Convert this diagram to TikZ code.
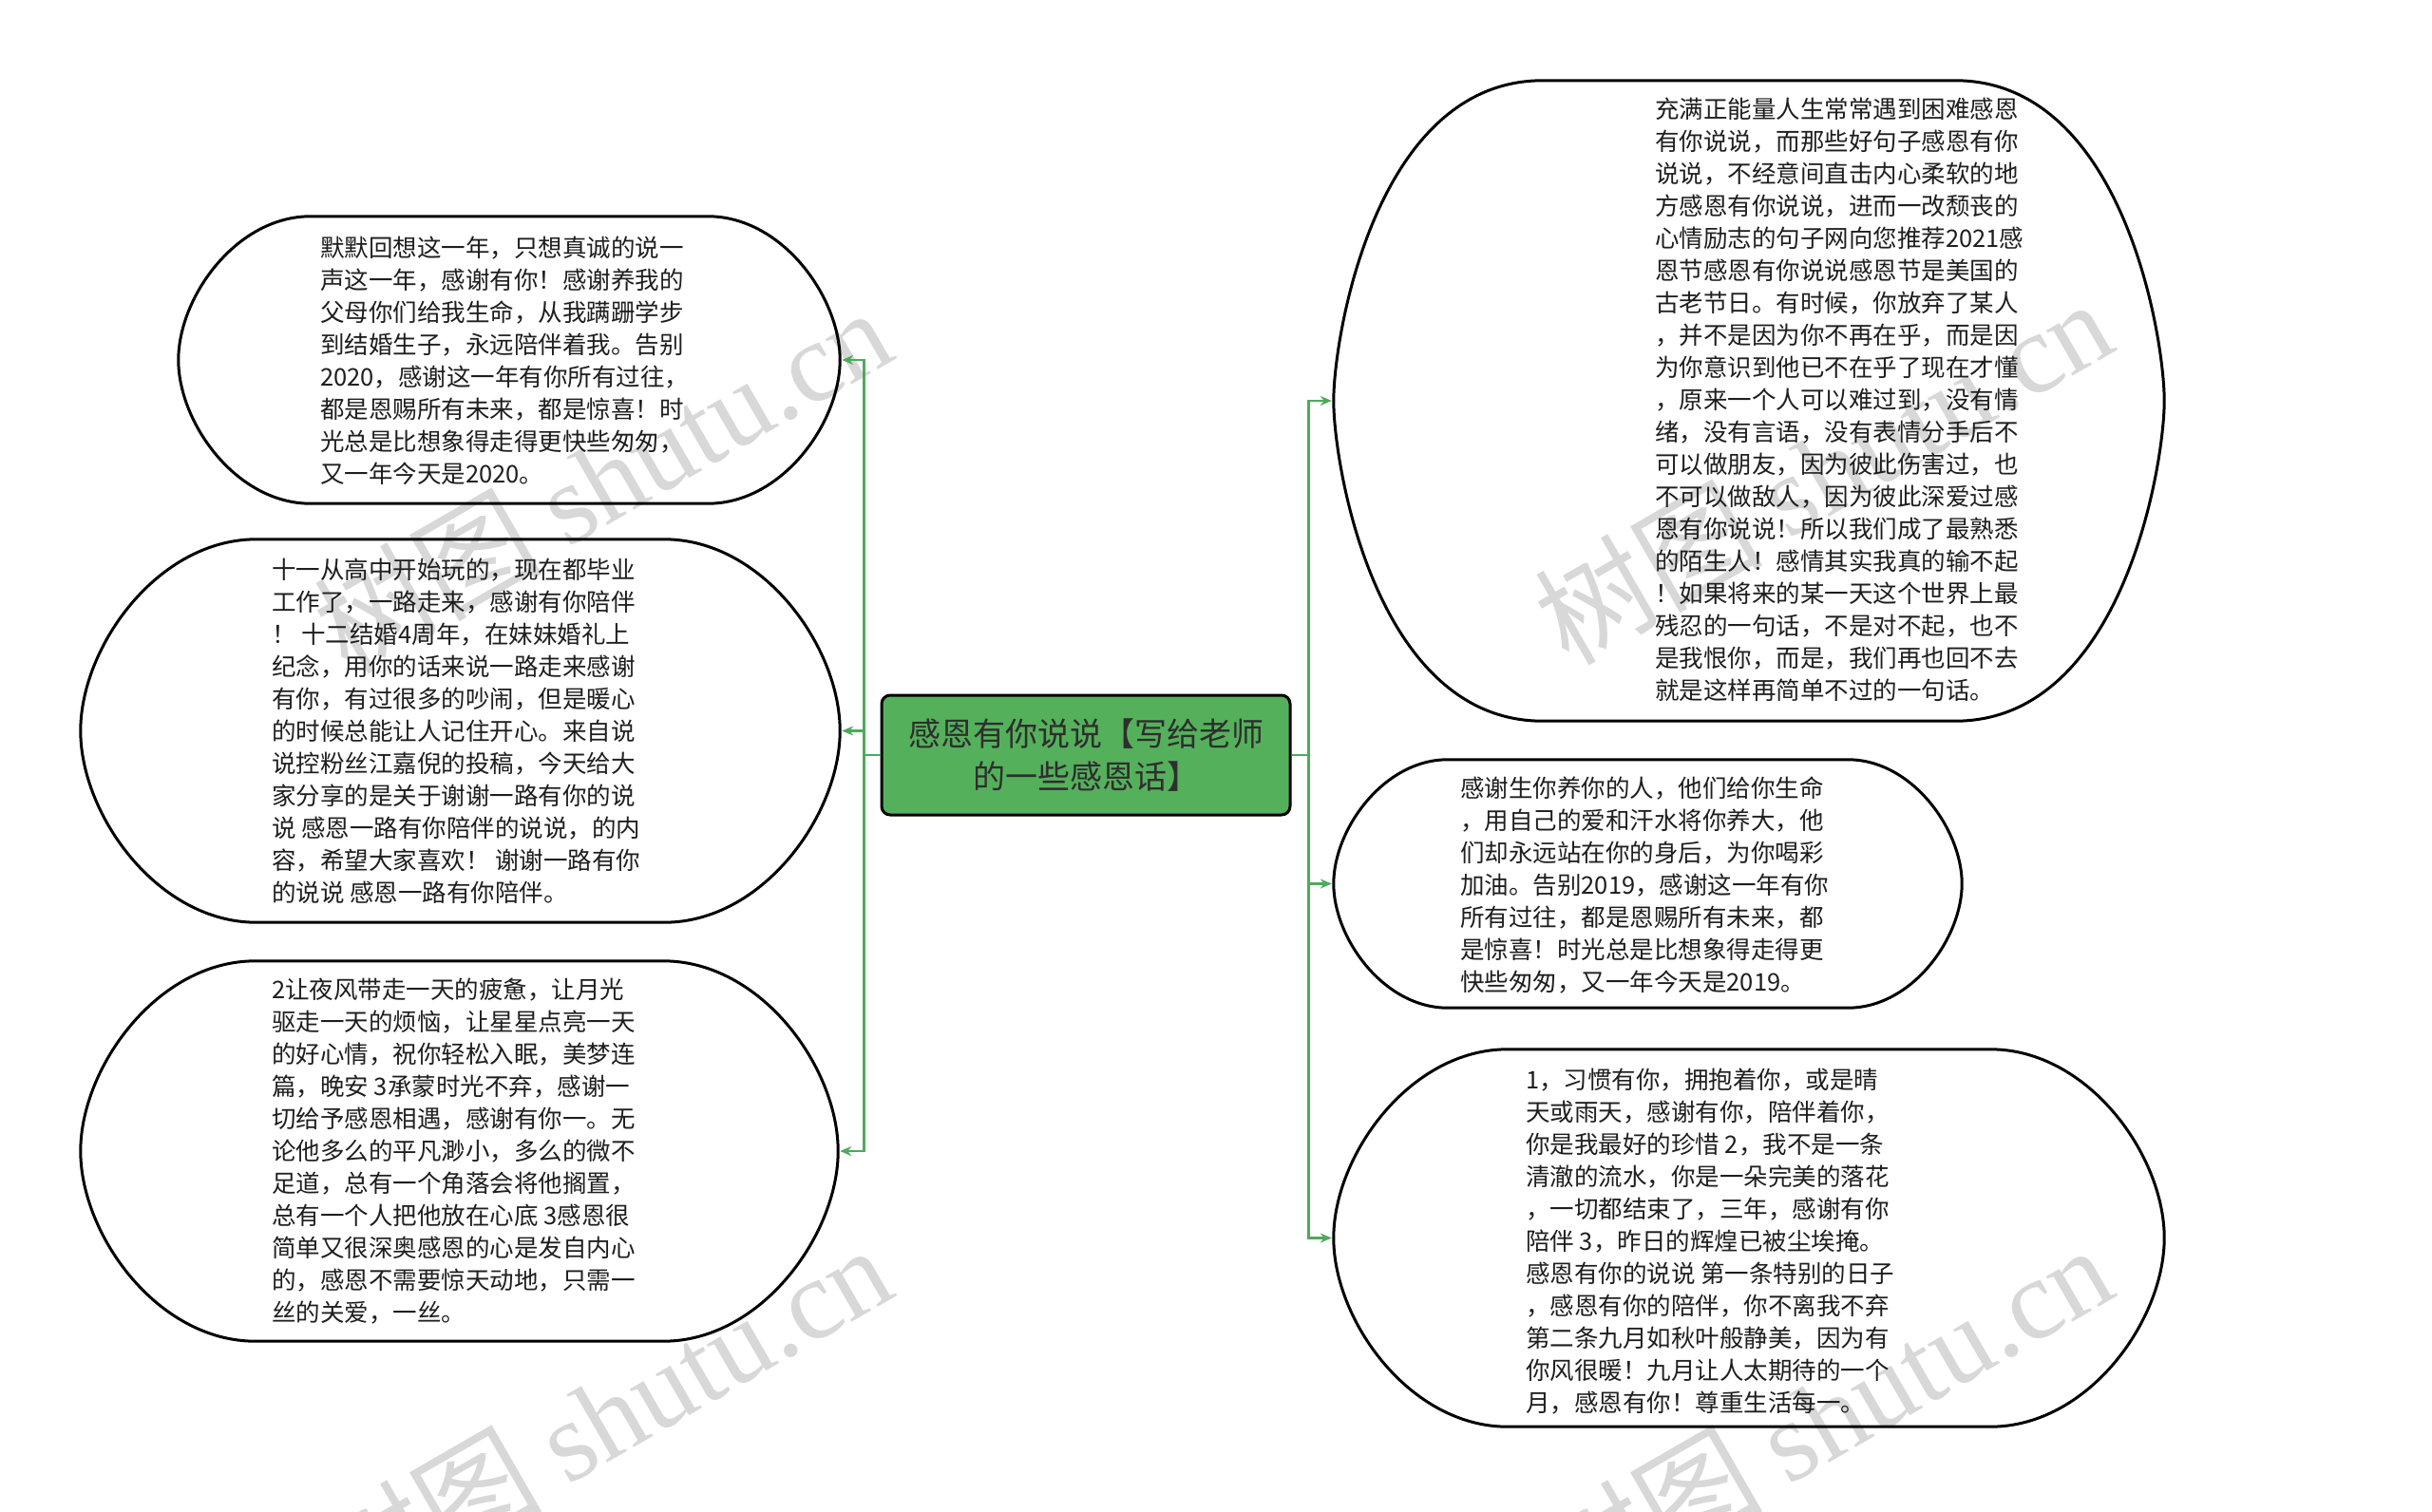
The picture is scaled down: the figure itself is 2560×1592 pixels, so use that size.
\documentclass[tikz,border=0pt]{standalone}
\usepackage{fontspec}
\setmainfont{Noto Sans CJK SC}
\newfontfamily\cjk{Noto Sans CJK SC}
\newfontfamily\wmfont{Liberation Serif}
\usetikzlibrary{arrows.meta,calc}
\definecolor{wire}{HTML}{4FA95A}
\definecolor{rootfill}{HTML}{55B05B}
\definecolor{roottext}{HTML}{2E2E2E}
\definecolor{wmgray}{HTML}{D8D8D8}
\definecolor{bodytext}{HTML}{1E1E1E}
\tikzset{
  pillnode/.style={draw=none,inner sep=0pt,rectangle},
  pillline/.style={draw=black,line width=3pt},
  txt/.style={anchor=west,align=left,inner sep=0pt,text=bodytext,font=\fontsize{25.5}{34}\selectfont},
  rootbox/.style={draw=black,line width=3pt,fill=rootfill,rounded corners=9pt,minimum width=430pt,minimum height=126pt,inner sep=0pt,align=center,text=roottext,font=\fontsize{34}{45}\selectfont},
  conn/.style={draw=wire,line width=2.5pt,-{Stealth[length=12pt,width=10pt]},shorten >=2pt},
  wm/.style={anchor=base east,rotate=30,text=wmgray,inner sep=0pt,font=\fontsize{120}{120}\selectfont}
}
\newcommand\pillpath[4]{%
 \pgfmathsetmacro\pillxa{#2*(1-#4)}\pgfmathsetmacro\pillya{#3*(1-#4)}%
 \draw[pillline] ([xshift=#2pt]#1.north west) -- ([xshift=-#2pt]#1.north east)
  .. controls ([xshift=-\pillxa pt]#1.north east) and ([yshift=\pillya pt]#1.east) .. (#1.east)
  .. controls ([yshift=-\pillya pt]#1.east) and ([xshift=-\pillxa pt]#1.south east) .. ([xshift=-#2pt]#1.south east)
  -- ([xshift=#2pt]#1.south west)
  .. controls ([xshift=\pillxa pt]#1.south west) and ([yshift=-\pillya pt]#1.west) .. (#1.west)
  .. controls ([yshift=\pillya pt]#1.west) and ([xshift=\pillxa pt]#1.north west) .. ([xshift=#2pt]#1.north west) -- cycle;}
\begin{document}
\begin{tikzpicture}[x=1pt,y=-1pt]
\useasboundingbox[fill=white] (0,0) rectangle (2560,1592);
% watermarks
\node[wm] (w1) at (947,376) {{\cjk 树图} {\wmfont shutu.cn}};
\node[wm] (w2) at (2232,367) {{\cjk 树图} {\wmfont shutu.cn}};
\node[wm] (w3) at (947,1363) {{\cjk 树图} {\wmfont shutu.cn}};
\node[wm] (w4) at (2232,1363) {{\cjk 树图} {\wmfont shutu.cn}};
% root
\node[rootbox] (c) at (1143,795) {感恩有你说说【写给老师\\的一些感恩话】};
% shapes
\node[pillnode,minimum width=696pt,minimum height=302pt] (lt) at (536,379) {};
\node[pillnode,minimum width=799pt,minimum height=403pt] (lm) at (484.5,769.5) {};
\node[pillnode,minimum width=797pt,minimum height=400pt] (lb) at (483.5,1212) {};
\node[pillnode,minimum width=874pt,minimum height=674pt] (rt) at (1841,422) {};
\node[pillnode,minimum width=661pt,minimum height=261pt] (rm) at (1734.5,930.5) {};
\node[pillnode,minimum width=874pt,minimum height=397pt] (rb) at (1841,1303.5) {};
\pillpath{lt}{139}{151}{0.56}
\pillpath{lm}{185}{201.5}{0.56}
\pillpath{lb}{184}{200}{0.56}
\pillpath{rt}{220}{337}{0.8}
\pillpath{rm}{120}{130.5}{0.56}
\pillpath{rb}{183}{198.5}{0.56}
% texts
\node[txt] (lt-t) at (337,380) {默默回想这一年，只想真诚的说一\\声这一年，感谢有你！感谢养我的\\父母你们给我生命，从我蹒跚学步\\到结婚生子，永远陪伴着我。告别\\2020，感谢这一年有你所有过往，\\都是恩赐所有未来，都是惊喜！时\\光总是比想象得走得更快些匆匆，\\又一年今天是2020。};
\node[txt] (lm-t) at (286,770) {十一从高中开始玩的，现在都毕业\\工作了，一路走来，感谢有你陪伴\\！ 十二结婚4周年，在妹妹婚礼上\\纪念，用你的话来说一路走来感谢\\有你，有过很多的吵闹，但是暖心\\的时候总能让人记住开心。来自说\\说控粉丝江嘉倪的投稿，今天给大\\家分享的是关于谢谢一路有你的说\\说 感恩一路有你陪伴的说说，的内\\容，希望大家喜欢！ 谢谢一路有你\\的说说 感恩一路有你陪伴。};
\node[txt] (lb-t) at (286,1212) {2让夜风带走一天的疲惫，让月光\\驱走一天的烦恼，让星星点亮一天\\的好心情，祝你轻松入眠，美梦连\\篇，晚安 3承蒙时光不弃，感谢一\\切给予感恩相遇，感谢有你一。无\\论他多么的平凡渺小，多么的微不\\足道，总有一个角落会将他搁置，\\总有一个人把他放在心底 3感恩很\\简单又很深奥感恩的心是发自内心\\的，感恩不需要惊天动地，只需一\\丝的关爱，一丝。};
\node[txt] (rt-t) at (1742,421) {充满正能量人生常常遇到困难感恩\\有你说说，而那些好句子感恩有你\\说说，不经意间直击内心柔软的地\\方感恩有你说说，进而一改颓丧的\\心情励志的句子网向您推荐2021感\\恩节感恩有你说说感恩节是美国的\\古老节日。有时候，你放弃了某人\\，并不是因为你不再在乎，而是因\\为你意识到他已不在乎了现在才懂\\，原来一个人可以难过到，没有情\\绪，没有言语，没有表情分手后不\\可以做朋友，因为彼此伤害过，也\\不可以做敌人，因为彼此深爱过感\\恩有你说说！所以我们成了最熟悉\\的陌生人！感情其实我真的输不起\\！如果将来的某一天这个世界上最\\残忍的一句话，不是对不起，也不\\是我恨你，而是，我们再也回不去\\就是这样再简单不过的一句话。};
\node[txt] (rm-t) at (1537,932) {感谢生你养你的人，他们给你生命\\，用自己的爱和汗水将你养大，他\\们却永远站在你的身后，为你喝彩\\加油。告别2019，感谢这一年有你\\所有过往，都是恩赐所有未来，都\\是惊喜！时光总是比想象得走得更\\快些匆匆，又一年今天是2019。};
\node[txt] (rb-t) at (1606,1307) {1，习惯有你，拥抱着你，或是晴\\天或雨天，感谢有你，陪伴着你，\\你是我最好的珍惜 2，我不是一条\\清澈的流水，你是一朵完美的落花\\，一切都结束了，三年，感谢有你\\陪伴 3，昨日的辉煌已被尘埃掩。\\感恩有你的说说 第一条特别的日子\\，感恩有你的陪伴，你不离我不弃\\第二条九月如秋叶般静美，因为有\\你风很暖！九月让人太期待的一个\\月，感恩有你！尊重生活每一。};
% connectors
\draw[conn] (c.west) -- ++(-17,0) |- (lt.east);
\draw[conn] (c.west) -- ++(-17,0) |- (lm.east);
\draw[conn] (c.west) -- ++(-17,0) |- (lb.east);
\draw[conn] (c.east) -- ++(18,0) |- (rt.west);
\draw[conn] (c.east) -- ++(18,0) |- (rm.west);
\draw[conn] (c.east) -- ++(18,0) |- (rb.west);
\end{tikzpicture}
\end{document}
